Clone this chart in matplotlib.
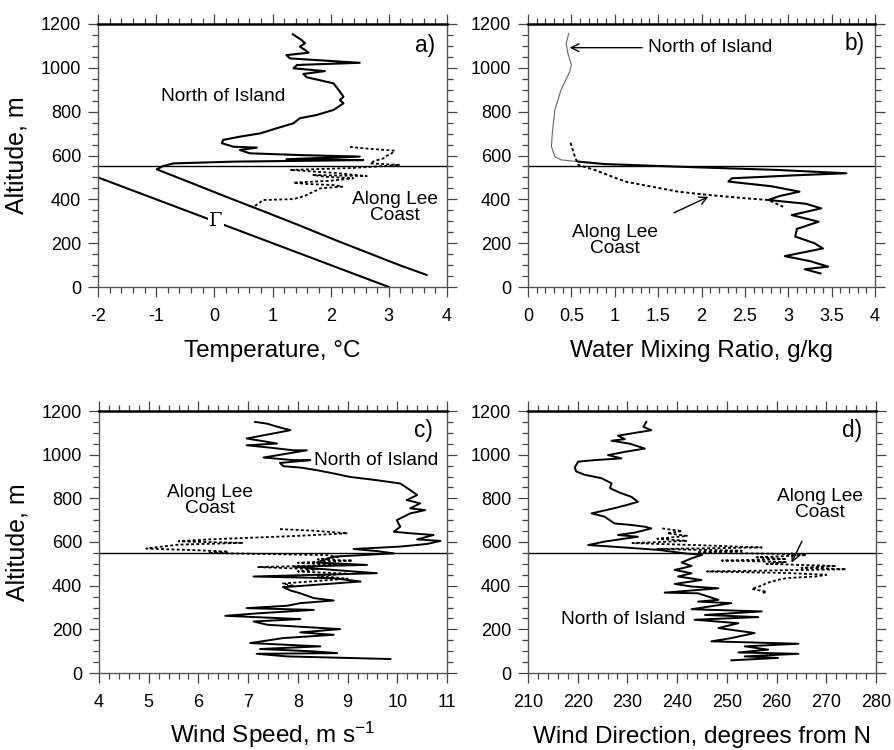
import matplotlib
matplotlib.use("Agg")
import matplotlib.pyplot as plt
from matplotlib.ticker import MultipleLocator, FuncFormatter

plt.rcParams['font.family'] = ['Liberation Sans', 'DejaVu Sans']
plt.rcParams['axes.unicode_minus'] = False
plt.rcParams['mathtext.default'] = 'regular'

# ---------------- data ----------------
# Panel a: temperature
a_north_alt = [1153, 1127, 1112, 1097, 1081, 1069, 1058, 1043, 1023, 1013, 998, 985, 972, 957,
               929, 891, 868, 853, 838, 808, 785, 770, 747, 724, 701, 686, 671, 656, 640, 636,
               625, 610, 602, 595, 583, 579, 572, 564, 552, 537, 470, 412, 340, 275, 210, 154, 100, 55]
a_north_T = [1.35, 1.50, 1.56, 1.47, 1.56, 1.62, 1.24, 1.30, 2.50, 1.42, 1.36, 1.90, 1.53, 1.59,
             2.05, 2.16, 2.22, 2.16, 2.22, 2.05, 1.76, 1.47, 1.36, 1.07, 0.79, 0.44, 0.15, 0.13, 0.33, 0.73,
             0.44, 0.61, 1.47, 2.50, 1.24, 2.56, 0.33, -0.70, -0.88, -0.99, -0.35, 0.20, 0.90, 1.52, 2.12, 2.66, 3.18, 3.65]
a_lee_alt = [370, 385, 397, 401, 415, 427, 440, 450, 458, 465, 470, 476, 485, 496, 503, 511, 506,
             520, 534, 543, 550, 557, 564, 575, 586, 598, 610, 622, 633, 640]
a_lee_T = [0.70, 0.78, 0.84, 1.36, 1.55, 1.64, 1.75, 1.82, 2.20, 2.05, 1.60, 1.36, 2.00, 2.39, 1.90,
           1.70, 2.62, 2.10, 1.30, 2.38, 2.80, 3.19, 2.68, 2.75, 2.90, 2.96, 3.05, 3.10, 2.56, 2.30]
gamma_alt = [500, 0]
gamma_T = [-2.0, 3.0]

# Panel b: water mixing ratio
b_north_up_alt = [1157, 1112, 1066, 1013, 982, 899, 808, 701, 640, 595, 580, 572]
b_north_up_q = [0.47, 0.44, 0.46, 0.50, 0.48, 0.38, 0.31, 0.28, 0.27, 0.31, 0.38, 0.58]
b_north_lo_alt = [572, 561, 549, 534, 519, 510, 496, 481, 460, 435, 415, 397, 380, 359, 328,
                  298, 265, 230, 200, 176, 141, 118, 93, 81, 62]
b_north_lo_q = [0.58, 0.88, 1.73, 2.88, 3.67, 3.10, 2.35, 2.31, 2.80, 3.13, 2.90, 2.77, 3.20, 3.38, 3.04,
                3.35, 3.10, 3.08, 3.30, 3.40, 2.96, 3.25, 3.46, 3.19, 3.37]
b_lee_alt = [658, 595, 557, 534, 481, 435, 420, 405, 397, 366]
b_lee_q = [0.49, 0.54, 0.58, 0.77, 1.12, 1.73, 2.08, 2.50, 2.77, 2.94]

# Panel c: wind speed
c_north_alt = [1150, 1142, 1127, 1112, 1074, 1062, 1051, 1043, 1032, 1020, 1020, 997, 987, 975, 975,
               962, 947, 941, 929, 914, 898, 883, 868, 838, 815, 792, 777, 754, 746, 731, 700,
               670, 647, 640, 632, 612, 605, 591, 579, 568, 558, 548, 533, 506, 495, 487, 472,
               457, 442, 434, 419, 393, 378, 365, 343, 332, 320, 308, 297, 289, 274, 262, 247,
               236, 221, 201, 186, 175, 160, 137, 122, 110, 99, 91, 88, 76, 64]
c_north_V = [7.14, 7.38, 7.60, 7.85, 6.97, 7.30, 7.58, 6.97, 7.45, 7.91, 8.18, 7.58, 7.31, 7.91, 8.25,
             7.64, 7.71, 8.05, 8.38, 8.72, 9.05, 9.59, 10.06, 10.26, 10.40, 10.19, 10.46, 10.26, 10.56, 10.26, 9.99,
             10.06, 9.93, 10.26, 10.73, 10.40, 10.87, 10.60, 10.06, 9.12, 9.60, 9.93, 8.72, 8.38, 9.39, 7.91, 8.72,
             9.59, 7.11, 8.72, 9.26, 7.71, 7.85, 8.05, 8.32, 8.72, 8.05, 7.78, 6.97, 8.32, 7.24, 6.54, 8.05,
             7.11, 7.38, 8.85, 8.05, 8.72, 7.71, 7.04, 8.45, 7.24, 8.32, 8.79, 7.17, 7.78, 9.86]
c_lee_alt = [659, 652, 640, 628, 612, 603, 596, 588, 580, 570, 562, 556, 550, 545, 540, 530, 520,
             515, 505, 495, 485, 475, 465, 455, 445, 432, 420, 410, 400, 393]
c_lee_V = [7.64, 8.30, 9.00, 8.00, 6.20, 5.60, 6.90, 5.60, 5.30, 4.95, 6.00, 6.60, 6.20, 7.30, 8.60,
           8.80, 8.40, 9.10, 8.00, 8.90, 7.20, 8.40, 8.00, 9.00, 8.40, 9.00, 8.30, 7.70, 7.90, 7.64]

# Panel d: wind direction
d_north_alt = [1150, 1128, 1112, 1087, 1071, 1064, 1050, 1028, 1013, 998, 983, 975, 968, 942, 923,
               908, 892, 869, 846, 823, 807, 784, 769, 755, 731, 716, 685, 678, 670, 662, 643,
               632, 624, 602, 586, 579, 564, 548, 541, 525, 506, 490, 472, 457, 442, 426, 408,
               396, 388, 368, 365, 335, 327, 320, 292, 282, 266, 256, 244, 228, 206, 183, 160,
               145, 134, 122, 107, 94, 88, 76, 69, 58]
d_north_D = [233.8, 233.2, 234.8, 228.1, 229.5, 226.8, 230.5, 233.5, 229.5, 226.1, 228.8, 223.4, 220.1, 219.4, 219.7,
             221.4, 224.8, 226.8, 226.5, 228.8, 230.8, 232.1, 229.8, 227.4, 222.8, 225.4, 227.4, 230.8, 233.5, 234.8, 231.5,
             228.1, 232.1, 225.4, 222.1, 226.8, 236.2, 241.5, 245.0, 242.9, 240.9, 242.9, 239.5, 242.9, 240.2, 244.9, 239.5,
             242.9, 248.3, 237.5, 244.2, 248.3, 244.2, 250.9, 242.9, 257.0, 245.6, 256.3, 243.5, 252.3, 248.3, 255.6, 250.9,
             246.9, 264.4, 253.6, 258.3, 252.3, 264.4, 253.6, 260.3, 250.9]
d_lee_alt = [662, 650, 640, 628, 615, 605, 595, 585, 575, 568, 560, 552, 546, 540, 530, 522, 515,
             508, 500, 490, 482, 475, 465, 458, 450, 442, 435, 425, 412, 400, 385, 372, 365]
d_lee_D = [237, 241, 238, 242, 236, 242, 231, 245, 257, 236, 253, 244, 260, 266, 256, 262, 249,
           262, 258, 272, 265, 274, 246, 262, 270, 268, 262, 260, 258, 257, 255, 258, 257]

inversion_alt = 550

# ---------------- figure ----------------
W, H = 895, 750
fig = plt.figure(figsize=(W / 100, H / 100), dpi=100)


def make_ax(l, r, t, b):
    return fig.add_axes([l / W, 1 - b / H, (r - l) / W, (b - t) / H])


axa = make_ax(98, 447, 24, 287)
axb = make_ax(528, 875, 24, 287)
axc = make_ax(99, 447, 411, 673)
axd = make_ax(528, 876, 411, 673)

dotted = (0, (1.6, 1.3))
TICK_FS = 13
LAB_FS = 17.5
TXT_FS = 13.8


def style(ax, xlim, xmaj, xmin, xlabel, ylabel=None):
    ax.set_xlim(*xlim)
    ax.set_ylim(0, 1200)
    ax.xaxis.set_major_locator(MultipleLocator(xmaj))
    ax.xaxis.set_minor_locator(MultipleLocator(xmin))
    ax.yaxis.set_major_locator(MultipleLocator(200))
    ax.yaxis.set_minor_locator(MultipleLocator(50))
    ax.xaxis.set_major_formatter(FuncFormatter(lambda v, p: '%g' % v))
    ax.tick_params(which='both', direction='out', top=True, right=True, color='#444',
                   labelsize=TICK_FS, width=0.9)
    ax.tick_params(which='major', length=7)
    ax.tick_params(which='minor', length=4)
    ax.tick_params(axis='x', which='major', pad=8)
    ax.tick_params(axis='y', which='major', pad=5)
    for s in ['left', 'bottom', 'right']:
        ax.spines[s].set_linestyle((0, (1, 1)))
        ax.spines[s].set_color('#555')
        ax.spines[s].set_linewidth(1.0)
    ax.spines['top'].set_linewidth(1.8)
    ax.spines['top'].set_color('black')
    # x label placed by baseline, ~70 px under the axes
    h_px = ax.get_position().height * H
    ax.text(0.5, -70.0 / h_px, xlabel, transform=ax.transAxes, fontsize=LAB_FS,
            ha='center', va='baseline')
    if ylabel:
        ax.set_ylabel(ylabel, fontsize=LAB_FS + 0.5, labelpad=9)
    ax.axhline(inversion_alt, color='black', lw=1.0)


# Panel a
axa.plot(a_north_T, a_north_alt, color='black', lw=1.5)
axa.plot(a_lee_T, a_lee_alt, color='black', lw=1.3, linestyle=dotted)
axa.plot(gamma_T, gamma_alt, color='black', lw=1.5)
axa.text(0.03, 300, 'Γ', fontsize=14, ha='center', va='center', family='DejaVu Serif',
         bbox=dict(facecolor='white', edgecolor='none', pad=1.0))
axa.text(0.15, 868, 'North of Island', fontsize=TXT_FS, ha='center', va='center')
axa.text(3.11, 363, 'Along Lee\nCoast', fontsize=TXT_FS, ha='center', va='center', linespacing=0.95)
axa.text(3.62, 1104, 'a)', fontsize=TXT_FS + 2.5, ha='center', va='center')
style(axa, (-2, 4), 1, 0.2, 'Temperature, °C', 'Altitude, m')

# Panel b
axb.plot(b_north_up_q, b_north_up_alt, color='#666', lw=0.8)
axb.plot(b_north_lo_q, b_north_lo_alt, color='black', lw=1.5)
axb.plot(b_lee_q, b_lee_alt, color='black', lw=1.4, linestyle=dotted)
axb.annotate('North of Island', xy=(0.48, 1092), xytext=(1.38, 1092), fontsize=TXT_FS,
             ha='left', va='center',
             arrowprops=dict(arrowstyle='->', color='black', lw=1.0, shrinkA=2, shrinkB=0))
axb.annotate('Along Lee\nCoast', xy=(2.08, 412), xytext=(1.0, 212), fontsize=TXT_FS,
             ha='center', va='center', linespacing=0.95,
             arrowprops=dict(arrowstyle='->', color='black', lw=1.0, shrinkA=14, shrinkB=0))
axb.text(3.77, 1112, 'b)', fontsize=TXT_FS + 2.5, ha='center', va='center')
style(axb, (0, 4), 0.5, 0.1, 'Water Mixing Ratio, g/kg')

# Panel c
axc.plot(c_north_V, c_north_alt, color='black', lw=1.4)
axc.plot(c_lee_V, c_lee_alt, color='black', lw=1.3, linestyle=dotted)
axc.text(8.32, 975, 'North of Island', fontsize=TXT_FS, ha='left', va='center')
axc.text(6.23, 790, 'Along Lee\nCoast', fontsize=TXT_FS, ha='center', va='center', linespacing=0.95)
axc.text(10.53, 1112, 'c)', fontsize=TXT_FS + 2.5, ha='center', va='center')
style(axc, (4, 11), 1, 0.2, 'Wind Speed, m s$^{-1}$', 'Altitude, m')

# Panel d
axd.plot(d_north_D, d_north_alt, color='black', lw=1.4)
axd.plot(d_lee_D, d_lee_alt, color='black', lw=1.3, linestyle=dotted)
axd.annotate('Along Lee\nCoast', xy=(263, 505), xytext=(268.7, 773), fontsize=TXT_FS,
             ha='center', va='center', linespacing=0.95,
             arrowprops=dict(arrowstyle='->', color='black', lw=1.0, shrinkA=14, shrinkB=0))
axd.text(229.1, 244, 'North of Island', fontsize=TXT_FS, ha='center', va='center')
axd.text(275.1, 1112, 'd)', fontsize=TXT_FS + 2.5, ha='center', va='center')
style(axd, (210, 280), 10, 2, 'Wind Direction, degrees from N')

fig.savefig('out.png', dpi=100)
